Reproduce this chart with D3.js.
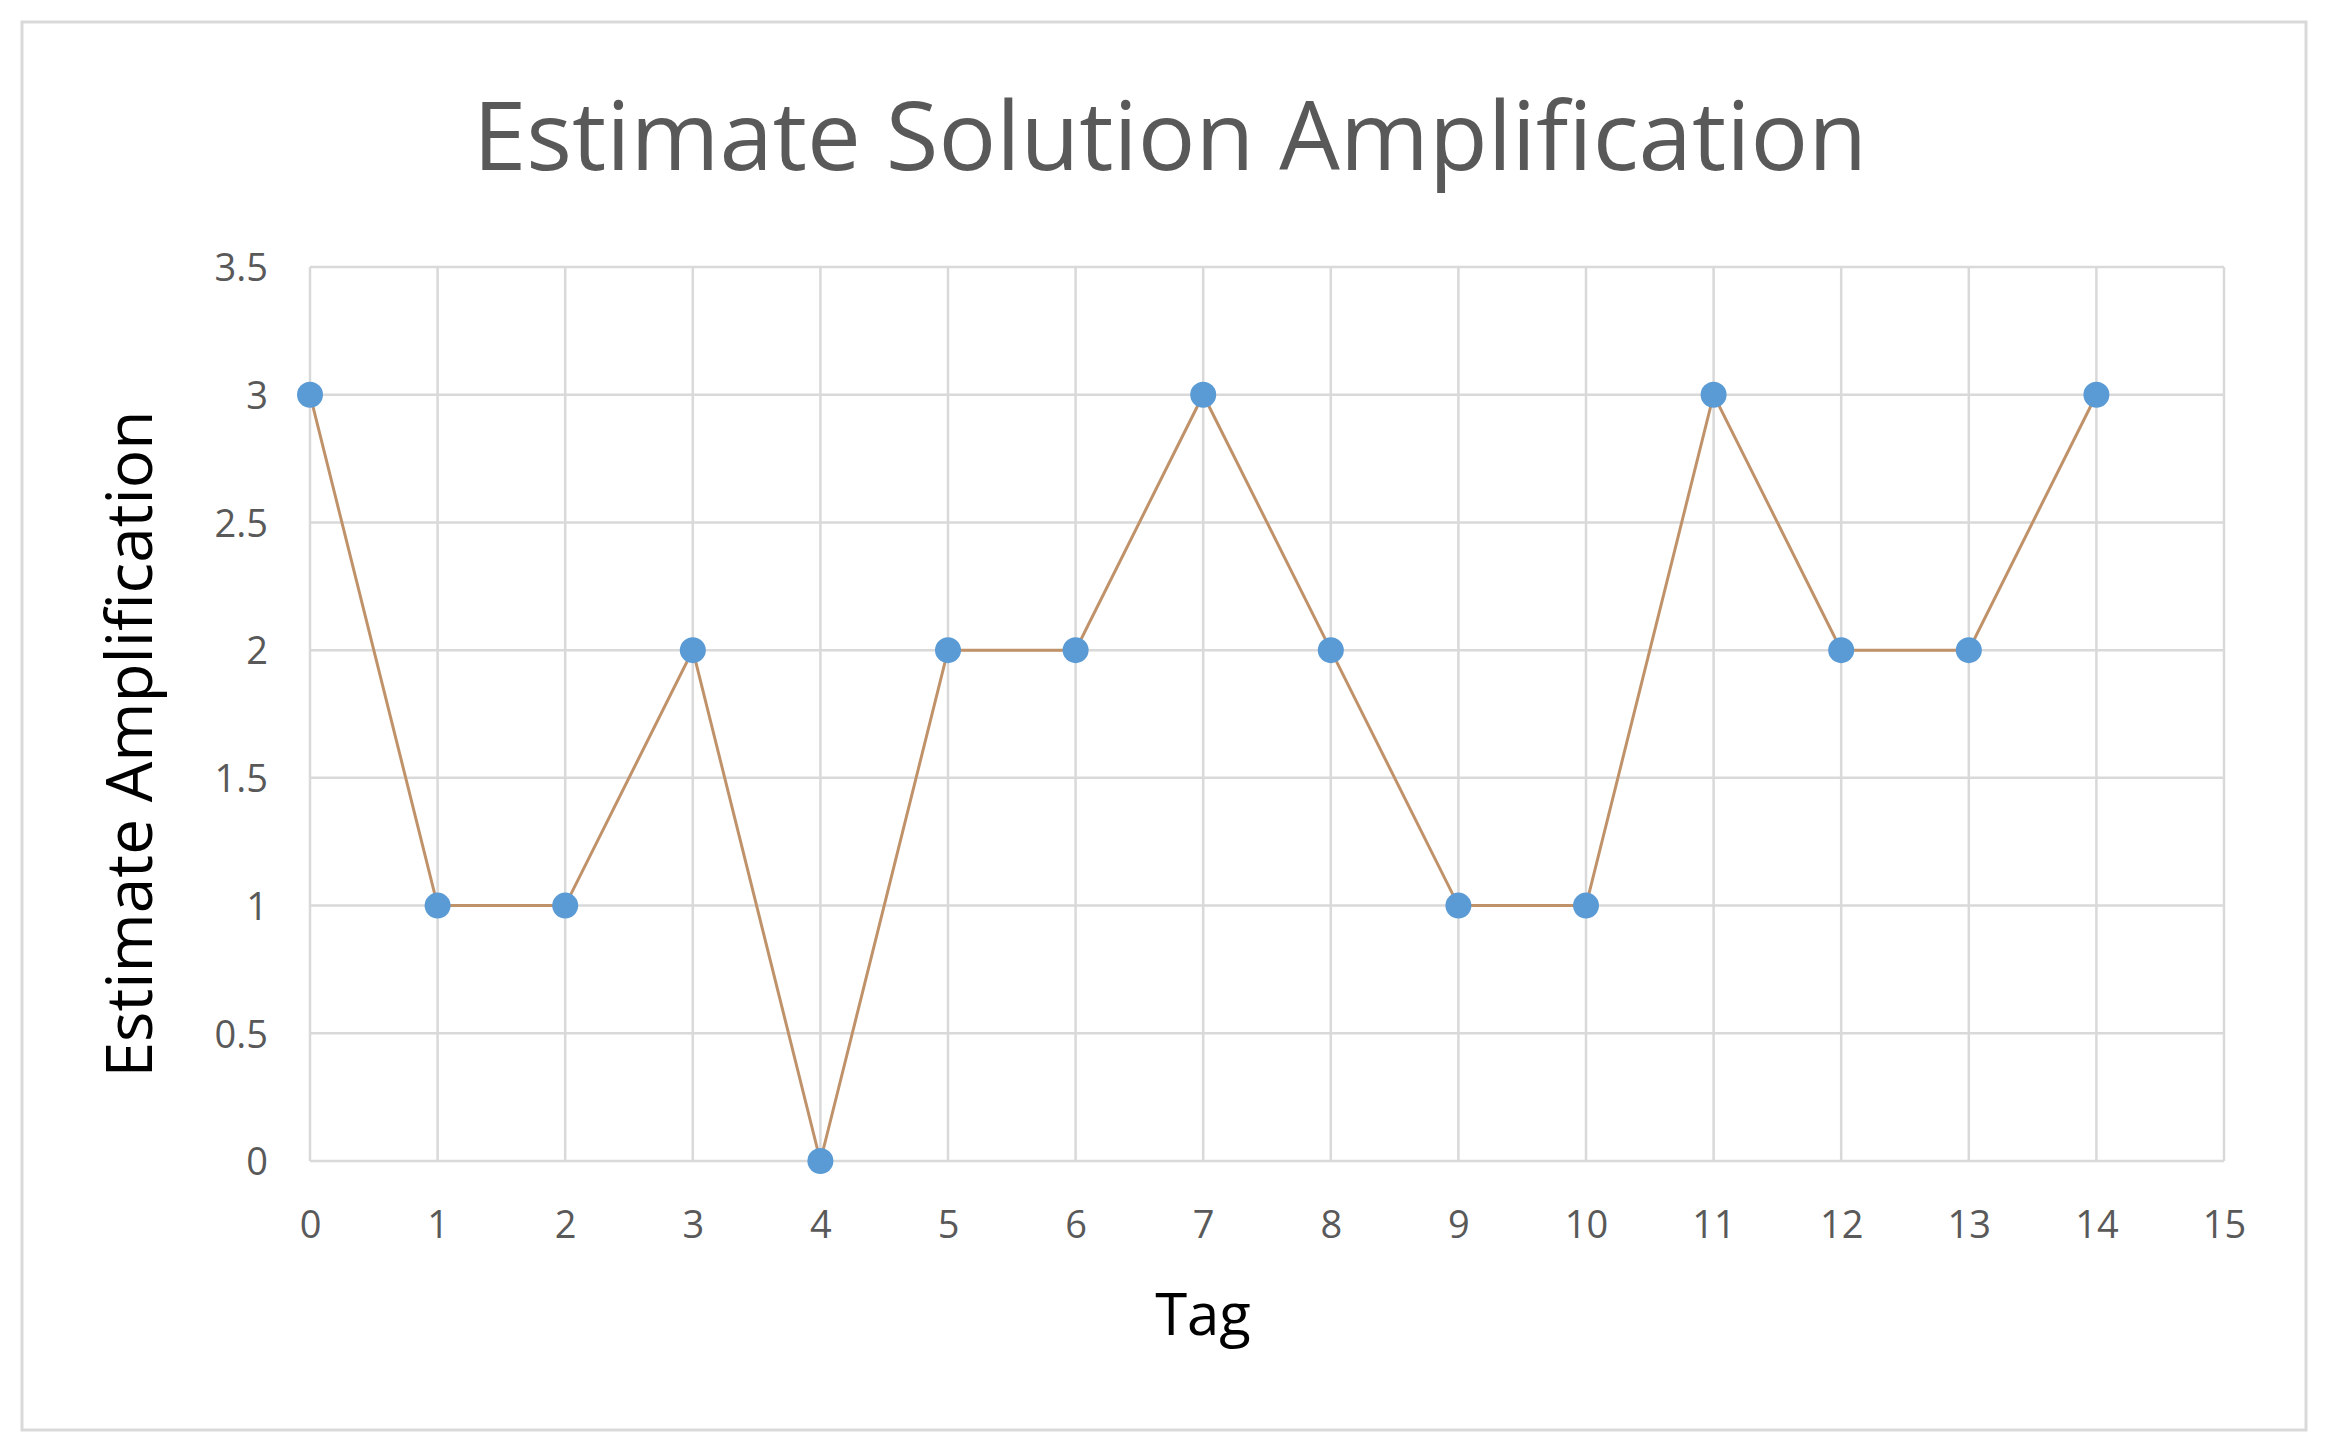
<!DOCTYPE html>
<html><head><meta charset="utf-8">
<script src="https://cdn.jsdelivr.net/npm/d3@7"></script>
<style>body{margin:0;background:#fff}</style>
</head><body><div id="chart"></div>
<script>
// data
var tags = [0,1,2,3,4,5,6,7,8,9,10,11,12,13,14];
var amplification = [3,1,1,2,0,2,2,3,2,1,1,3,2,2,3];
var xTicks = d3.range(0, 16);
var yTicks = [0,0.5,1,1.5,2,2.5,3,3.5];

var W = 2328, H = 1448;
var margin = {top: 267, right: 104, bottom: 287, left: 310},
    width = W - margin.left - margin.right,
    height = H - margin.top - margin.bottom;

var svg = d3.select("#chart").append("svg")
    .attr("width", W).attr("height", H);

svg.append("rect").attr("x", 22).attr("y", 22)
   .attr("width", 2284).attr("height", 1408)
   .attr("fill", "#fff").attr("stroke", "#d9d9d9").attr("stroke-width", 3);

var g = svg.append("g")
    .attr("transform", "translate(" + margin.left + "," + margin.top + ")");

var x = d3.scaleLinear().domain([0, 15]).range([0, width]);
var y = d3.scaleLinear().domain([0, 3.5]).range([height, 0]);

// gridlines
g.append("g").selectAll("line").data(xTicks).enter().append("line")
  .attr("x1", d => x(d)).attr("x2", d => x(d))
  .attr("y1", 0).attr("y2", height)
  .attr("stroke", "#d9d9d9").attr("stroke-width", 2.5);
g.append("g").selectAll("line").data(yTicks).enter().append("line")
  .attr("x1", 0).attr("x2", width)
  .attr("y1", d => y(d)).attr("y2", d => y(d))
  .attr("stroke", "#d9d9d9").attr("stroke-width", 2.5);

// axes
var xAxis = g.append("g").attr("transform", "translate(0," + height + ")")
  .call(d3.axisBottom(x).tickValues(xTicks).tickSize(0).tickPadding(50));
var yAxis = g.append("g")
  .call(d3.axisLeft(y).tickValues(yTicks).tickSize(0).tickPadding(42)
        .tickFormat(d3.format("")));
[xAxis, yAxis].forEach(function(a) {
  a.select(".domain").remove();
  a.selectAll("text").style("font-size", "38px")
   .style("font-family", "'Open Sans', sans-serif").attr("fill", "#595959");
});
yAxis.selectAll("text").attr("dy", "0.1em").attr("transform", "translate(0,10)");

// line + points
var pts = tags.map((t, i) => ({t: t, v: amplification[i]}));
g.append("path").datum(pts)
  .attr("fill", "none").attr("stroke", "#c0926a").attr("stroke-width", 3)
  .attr("d", d3.line().x(d => x(d.t)).y(d => y(d.v)));
g.append("g").selectAll("circle").data(pts).enter().append("circle")
  .attr("cx", d => x(d.t)).attr("cy", d => y(d.v)).attr("r", 13)
  .attr("fill", "#5b9bd5");

// titles
svg.append("text").attr("x", 1170).attr("y", 170).attr("text-anchor", "middle")
  .style("font-size", "96px").style("font-family", "'Open Sans', sans-serif")
  .attr("fill", "#595959").text("Estimate Solution Amplification");
svg.append("text").attr("x", 1203).attr("y", 1335).attr("text-anchor", "middle")
  .style("font-size", "58px").style("font-family", "'Open Sans', sans-serif")
  .attr("fill", "#000").text("Tag");
svg.append("text").attr("transform", "translate(152," + (margin.top + height / 2 + 30) + ") rotate(-90)")
  .attr("text-anchor", "middle")
  .style("font-size", "64px").style("font-family", "'Open Sans', sans-serif")
  .attr("fill", "#000").text("Estimate Amplification");
</script></body></html>
